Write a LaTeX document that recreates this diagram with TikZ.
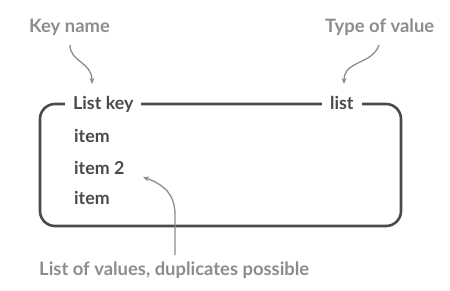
\documentclass[tikz,border=0pt]{standalone}
\usepackage{fontspec}
\setmainfont{Lato}
\usetikzlibrary{arrows.meta}
\definecolor{dark}{HTML}{4A4A4A}
\definecolor{lightg}{HTML}{8C8C8C}
\tikzset{
  boxline/.style={draw=dark, line width=2.6pt, rounded corners=15pt},
  title/.style={font=\fontsize{17.8}{20}\selectfont\bfseries, text=dark, fill=white, inner xsep=8pt, inner ysep=2pt, anchor=base west},
  itemtext/.style={font=\fontsize{17.8}{20}\selectfont\bfseries, text=dark, inner sep=0pt, anchor=base west},
  note/.style={font=\fontsize{18.4}{21}\selectfont\bfseries, text=lightg, inner sep=0pt, anchor=base west},
  pointer/.style={draw=lightg, line width=1.3pt, -{Stealth[length=6pt,width=5pt]}},
}
\begin{document}
\begin{tikzpicture}[x=1pt,y=-1pt]
\useasboundingbox (0,0) rectangle (450,290);
\draw[boxline] (40,104) rectangle (401,226);
\node[title] (lk) at (65,109) {List key};
\node[title] (lt) at (322,109) {list};
\node[itemtext] (i1) at (74,142) {item};
\node[itemtext] (i2) at (74,174) {item 2};
\node[itemtext] (i3) at (74,204) {item};
\node[note] (kn) at (29,32) {Key name};
\node[note] (tv) at (325,32) {Type of value};
\node[note] (lv) at (39,275) {List of values, duplicates possible};
\coordinate (a1s) at (70,45);
\coordinate (a1e) at (92,84);
\coordinate (a2s) at (379,45);
\coordinate (a2e) at (344,84);
\coordinate (a3s) at (175,255);
\coordinate (a3e) at (143,177);
\draw[pointer] (a1s) .. controls (70,62) and (92,62) .. (a1e);
\draw[pointer] (a2s) .. controls (372,65) and (344,60) .. (a2e);
\draw[pointer] (a3s) -- (175,215) .. controls (175,195) and (165,185) .. (a3e);
\end{tikzpicture}
\end{document}
